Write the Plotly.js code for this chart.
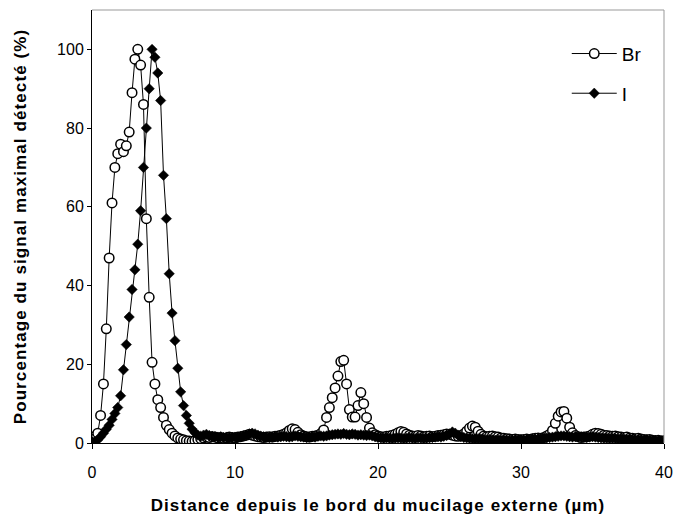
<!DOCTYPE html>
<html>
<head>
<meta charset="utf-8">
<script src="https://cdn.plot.ly/plotly-3.0.1.min.js"></script>
<style>
html,body{margin:0;padding:0;background:#fff}
#chart{width:675px;height:520px}
#chart .xtitle, #chart .ytitle{letter-spacing:1.1px}
</style>
</head>
<body>
<div id="chart"></div>
<script>
var distance = [
 0.0,0.2,0.4,0.6,0.8,1.0,1.2,1.4,1.6,1.8,
 2.0,2.2,2.4,2.6,2.8,3.0,3.2,3.4,3.6,3.8,
 4.0,4.2,4.4,4.6,4.8,5.0,5.2,5.4,5.6,5.8,
 6.0,6.2,6.4,6.6,6.8,7.0,7.2,7.4,7.6,7.8,
 8.0,8.2,8.4,8.6,8.8,9.0,9.2,9.4,9.6,9.8,
 10.0,10.2,10.4,10.6,10.8,11.0,11.2,11.4,11.6,11.8,
 12.0,12.2,12.4,12.6,12.8,13.0,13.2,13.4,13.6,13.8,
 14.0,14.2,14.4,14.6,14.8,15.0,15.2,15.4,15.6,15.8,
 16.0,16.2,16.4,16.6,16.8,17.0,17.2,17.4,17.6,17.8,
 18.0,18.2,18.4,18.6,18.8,19.0,19.2,19.4,19.6,19.8,
 20.0,20.2,20.4,20.6,20.8,21.0,21.2,21.4,21.6,21.8,
 22.0,22.2,22.4,22.6,22.8,23.0,23.2,23.4,23.6,23.8,
 24.0,24.2,24.4,24.6,24.8,25.0,25.2,25.4,25.6,25.8,
 26.0,26.2,26.4,26.6,26.8,27.0,27.2,27.4,27.6,27.8,
 28.0,28.2,28.4,28.6,28.8,29.0,29.2,29.4,29.6,29.8,
 30.0,30.2,30.4,30.6,30.8,31.0,31.2,31.4,31.6,31.8,
 32.0,32.2,32.4,32.6,32.8,33.0,33.2,33.4,33.6,33.8,
 34.0,34.2,34.4,34.6,34.8,35.0,35.2,35.4,35.6,35.8,
 36.0,36.2,36.4,36.6,36.8,37.0,37.2,37.4,37.6,37.8,
 38.0,38.2,38.4,38.6,38.8,39.0,39.2,39.4,39.6,39.8,
 40.0
];
var brValues = [
 1.5,1.0,2.5,7,15,29,47,61,70,73.5,
 75.9,74,75.5,79,89,97.5,100,96,86,57,
 37,20.5,15,11,9,6.5,4.5,3.4,2.5,1.8,
 1.3,1.0,0.8,0.6,0.5,0.4,0.6,0.9,1.1,1.3,
 1.5,1.4,1.6,1.5,1.3,1.4,1.2,1.3,1.5,1.4,
 1.3,1.5,1.6,1.8,2.0,2.2,2.0,1.8,1.6,1.5,
 1.4,1.5,1.6,1.5,1.7,1.8,2.0,2.2,2.6,3.2,
 3.6,3.4,2.7,2.1,1.8,1.6,1.5,1.7,1.8,2.0,
 2.4,3.3,6.5,9,11.5,14,17,20.7,21,15,
 8.5,6.6,6.6,9.5,12.8,10,6.5,3.8,2.6,2.1,
 1.8,1.6,1.5,1.7,1.8,2.0,2.2,2.6,2.9,2.7,
 2.3,2.0,1.8,1.7,1.9,1.8,1.6,1.7,1.8,1.6,
 1.7,1.9,2.0,2.1,2.3,2.2,2.0,1.8,1.7,1.9,
 2.3,3.0,3.8,4.3,4.0,3.0,2.2,1.8,1.6,1.7,
 1.8,1.6,1.5,1.3,1.2,1.1,1.0,0.9,1.0,0.9,
 0.8,0.9,1.0,0.9,1.1,1.2,1.3,1.2,1.4,1.8,
 2.2,3.2,5,6.8,7.9,8.0,6.3,4.0,2.6,1.9,
 1.6,1.4,1.5,1.6,1.8,2.2,2.5,2.4,2.2,2.0,
 1.9,1.8,1.7,1.8,1.6,1.5,1.4,1.5,1.3,1.2,
 1.1,1.2,1.0,0.9,0.8,0.9,0.7,0.6,0.7,0.5,
 0.6
];
var iValues = [
 0.4,0.3,0.8,1.6,2.5,3.5,4.5,6,7.5,9,
 12,18.6,25,32,39,44,50.5,59,70,80,
 90,100,98,94,87,68,57,43,33,26,
 19,13,9.5,7,5,3.5,2.6,2.0,1.7,2.0,
 2.2,1.9,1.7,1.6,1.5,1.6,1.4,1.5,1.3,1.4,
 1.5,1.4,1.6,1.8,2.0,2.3,2.5,2.3,2.0,1.7,
 1.6,1.5,1.4,1.5,1.6,1.5,1.6,1.7,1.6,1.5,
 1.6,1.8,1.7,1.6,1.5,1.4,1.5,1.6,1.5,1.7,
 1.8,1.7,1.8,2.0,2.1,2.2,2.3,2.2,2.4,2.2,
 2.1,2.3,2.2,2.0,2.1,2.0,1.9,2.0,1.8,1.6,
 1.4,1.3,1.2,1.3,1.2,1.1,1.2,1.3,1.2,1.1,
 1.2,1.3,1.2,1.1,1.3,1.2,1.1,1.2,1.3,1.4,
 1.5,1.6,1.5,1.7,1.9,2.3,2.8,2.5,2.0,1.6,
 1.4,1.3,1.2,1.1,1.0,1.1,1.0,0.9,0.8,0.9,
 0.8,0.7,0.8,0.7,0.8,0.7,0.6,0.7,0.8,0.7,
 0.8,0.7,0.8,0.9,1.0,0.9,1.0,1.1,1.2,1.3,
 1.4,1.5,1.6,1.7,1.8,1.8,1.7,1.6,1.5,1.6,
 1.5,1.6,1.5,1.4,1.5,1.6,1.5,1.4,1.3,1.2,
 1.2,1.1,1.2,1.1,1.0,1.1,1.0,0.9,1.0,0.9,
 0.8,0.9,0.8,0.7,0.8,0.7,0.6,0.7,0.6,0.5,
 0.5
];
var seriesNames = ["Br", "I"];
var xTicks = [0, 10, 20, 30, 40];
var yTicks = [0, 20, 40, 60, 80, 100];

var font = "Liberation Sans, Arial, sans-serif";

var traces = [
  {
    x: distance, y: brValues, name: seriesNames[0], type: "scatter", mode: "lines+markers",
    legendgroup: "a",
    line: {color: "#000", width: 1},
    marker: {symbol: "circle", size: 9.5, color: "#fff", line: {color: "#000", width: 1.5}}
  },
  {
    x: distance, y: iValues, name: seriesNames[1], type: "scatter", mode: "lines+markers",
    legendgroup: "b",
    line: {color: "#000", width: 1},
    marker: {symbol: "diamond", size: 8, color: "#000", line: {color: "#000", width: 0.5}}
  }
];

var layout = {
  width: 675, height: 520,
  margin: {l: 92, r: 11, t: 10, b: 77},
  paper_bgcolor: "#fff", plot_bgcolor: "#fff",
  font: {family: font, color: "#000", size: 16},
  showlegend: true,
  legend: {
    x: 0.83, y: 0.943, xanchor: "left", yanchor: "top",
    font: {family: font, size: 19, color: "#000"},
    itemwidth: 45, tracegroupgap: 12, bgcolor: "rgba(0,0,0,0)"
  },
  xaxis: {
    range: [0, 40], tickvals: xTicks, ticktext: xTicks.map(String),
    showgrid: false, zeroline: false,
    showline: true, linecolor: "#000", linewidth: 1,
    ticks: "outside", ticklen: 5, tickcolor: "#000",
    ticklabelstandoff: 10,
    tickfont: {family: font, size: 16, color: "#000"},
    title: {text: "<b>Distance depuis le bord du mucilage externe (µm)</b>", font: {family: font, size: 17, color: "#000"}, standoff: 18}
  },
  yaxis: {
    range: [0, 110], tickvals: yTicks, ticktext: yTicks.map(String),
    showgrid: false, zeroline: false,
    showline: true, linecolor: "#000", linewidth: 1,
    ticks: "outside", ticklen: 4, tickcolor: "#000",
    tickfont: {family: font, size: 16, color: "#000"},
    title: {text: "<b>Pourcentage du signal maximal détecté (%)</b>", font: {family: font, size: 17, color: "#000"}, standoff: 26}
  },
  shapes: [
    {type: "line", xref: "paper", yref: "paper", x0: 0, x1: 1, y0: 1, y1: 1, line: {color: "#999", width: 1}},
    {type: "line", xref: "paper", yref: "paper", x0: 1, x1: 1, y0: 0, y1: 1, line: {color: "#999", width: 1}}
  ]
};

Plotly.newPlot("chart", traces, layout, {displayModeBar: false, staticPlot: true});
</script>
</body>
</html>
